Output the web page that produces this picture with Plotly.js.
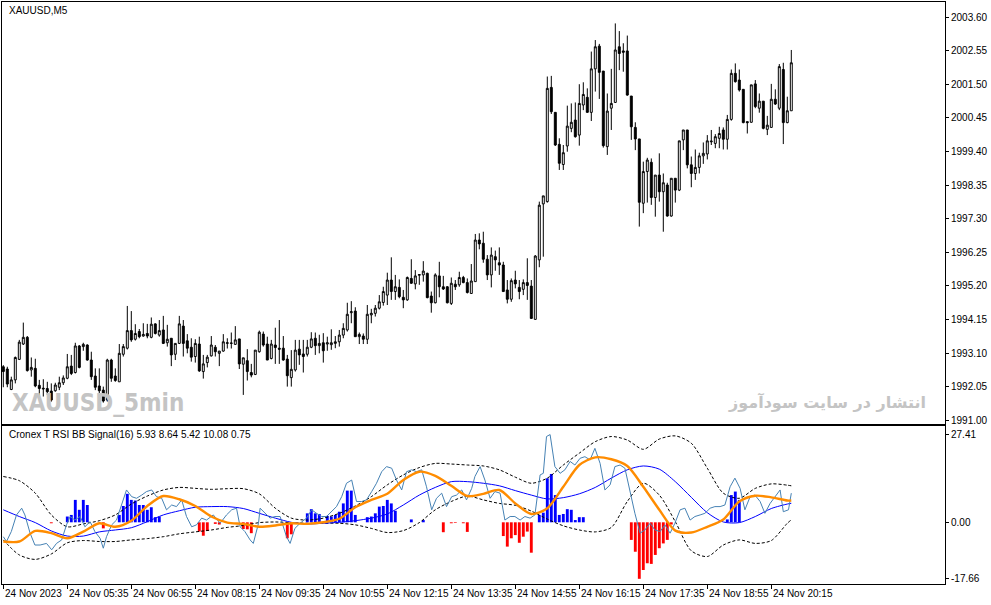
<!DOCTYPE html>
<html>
<head>
<meta charset="utf-8">
<script src="https://cdn.plot.ly/plotly-3.0.1.min.js"></script>
<style>
html,body{margin:0;padding:0;background:#fff;}
#chart{width:991px;height:605px;}
</style>
</head>
<body>
<div id="chart"></div>
<script>
// ---- Price candles (XAUUSD M5, bar 0 = 24 Nov 04:15) ----
const candleOpen = [
1992.67,1992.60,1991.96,1992.26,1992.90,1993.38,1993.59,1992.57,1992.62,1992.09,
1992.00,1991.99,1991.91,1991.92,1992.03,1992.17,1992.31,1992.69,1992.49,1993.32,
1993.30,1993.35,1992.88,1992.38,1992.07,1991.94,1991.63,1992.88,1992.38,1992.20,
1993.06,1993.25,1993.80,1993.53,1993.77,1993.63,1993.71,1993.59,1994.01,1993.66,
1993.82,1993.42,1993.56,1993.06,1993.40,1993.94,1993.48,1993.28,1992.99,1993.38,
1992.52,1992.80,1993.01,1993.28,1993.09,1993.16,1993.40,1993.40,1993.37,1993.54,
1992.75,1992.86,1992.49,1992.43,1993.14,1993.69,1993.38,1992.93,1993.35,1993.25,
1993.25,1992.91,1992.33,1992.57,1993.22,1993.07,1993.06,1993.28,1993.56,1993.33,
1993.42,1993.38,1993.36,1993.40,1993.45,1993.66,1993.82,1994.36,1994.41,1993.61,
1993.63,1993.53,1994.29,1994.34,1994.50,1994.68,1994.91,1995.38,1995.02,1995.15,
1994.84,1994.76,1995.43,1995.26,1995.53,1995.54,1995.59,1994.88,1994.67,1995.51,
1995.17,1995.17,1994.65,1995.25,1995.23,1995.46,1995.30,1994.96,1995.33,1996.63,
1996.53,1996.03,1995.54,1996.11,1995.92,1995.85,1995.07,1994.78,1995.38,1995.15,
1995.09,1995.30,1995.19,1994.15,1996.01,1997.76,1997.83,2001.40,2000.62,1999.62,
1998.99,1999.57,2000.12,2000.38,1999.91,2000.85,2001.09,2000.62,2001.98,2002.69,
2001.91,1999.55,2000.75,2000.93,2002.67,2002.54,2002.54,2001.13,2000.15,1999.79,
1997.78,1998.77,1999.06,1997.96,1998.66,1998.14,1998.35,1997.38,1998.56,1998.19,
1999.76,2000.07,1998.98,1998.71,1998.90,1999.26,1999.32,1999.70,1999.65,1999.81,
2000.07,1999.78,2000.40,2001.84,2001.63,2001.34,2000.33,2000.31,2001.51,2000.75,
2000.97,2000.09,2000.15,2001.03,2000.75,2001.96,2000.30,2000.67];
const candleHigh = [
1992.72,1992.67,1992.36,1992.99,1993.51,1994.05,1993.63,1992.96,1992.92,1992.26,
1992.28,1992.20,1992.15,1992.17,1992.36,1992.40,1993.07,1993.04,1993.42,1993.35,
1993.42,1993.37,1993.14,1992.62,1992.62,1992.05,1992.92,1992.92,1992.62,1993.38,
1993.38,1994.57,1994.41,1994.00,1993.85,1994.03,1994.01,1994.21,1994.03,1994.13,
1994.26,1993.98,1993.56,1993.40,1994.26,1994.13,1993.69,1993.56,1993.53,1993.61,
1993.04,1993.04,1993.63,1993.35,1993.16,1993.69,1993.56,1993.74,1993.94,1993.54,
1992.95,1993.22,1992.76,1993.19,1993.80,1993.77,1993.61,1993.51,1993.89,1994.13,
1993.63,1993.04,1993.19,1993.51,1993.51,1993.51,1993.51,1993.75,1993.74,1993.67,
1993.72,1993.61,1993.84,1993.63,1993.82,1994.03,1994.67,1994.72,1994.53,1993.74,
1993.71,1994.60,1994.48,1994.60,1994.91,1995.17,1995.61,1996.09,1995.54,1995.40,
1995.07,1995.49,1996.03,1995.69,1995.55,1995.97,1995.61,1995.02,1995.59,1995.95,
1995.51,1995.19,1995.46,1995.38,1995.64,1995.51,1995.43,1995.88,1996.82,1996.84,
1996.89,1996.16,1996.40,1996.30,1996.40,1995.95,1995.38,1995.43,1995.67,1995.38,
1995.40,1996.06,1995.38,1996.16,1997.83,1998.01,2001.74,2001.76,2000.62,1999.81,
1999.60,2000.83,2000.90,2000.93,2001.50,2001.56,2001.37,2002.52,2002.88,2002.76,
2001.91,2001.21,2001.98,2003.40,2003.16,2002.78,2003.02,2001.13,2000.31,1999.79,
1999.08,1999.20,1999.18,1998.66,1999.34,1998.71,1998.42,1998.56,1998.56,1999.73,
2000.07,2000.07,1999.24,1999.46,1999.36,1999.68,1999.91,2000.07,1999.94,2000.17,
2000.15,2000.54,2001.96,2002.15,2001.96,2001.34,2000.33,2001.48,2001.63,2001.21,
2000.97,2000.51,2001.51,2001.34,2002.13,2002.17,2001.11,2002.57];
const candleLow = [
1992.03,1992.03,1991.94,1992.15,1992.88,1993.35,1992.52,1992.36,1992.03,1991.74,
1991.74,1991.79,1991.58,1991.89,1991.94,1992.10,1992.28,1992.41,1992.46,1992.62,
1993.17,1992.86,1992.26,1991.94,1991.84,1991.55,1991.58,1992.20,1992.20,1992.20,
1992.99,1993.21,1993.45,1993.49,1993.56,1993.61,1993.56,1993.56,1993.68,1993.61,
1993.38,1993.30,1992.69,1992.88,1993.38,1992.99,1993.09,1992.83,1992.80,1992.51,
1992.30,1992.65,1992.99,1992.99,1992.69,1993.14,1993.24,1993.24,1993.35,1992.60,
1991.79,1992.24,1992.34,1992.41,1993.11,1993.30,1992.88,1992.90,1992.76,1992.76,
1992.86,1992.05,1992.05,1992.52,1992.73,1992.49,1992.99,1993.25,1993.04,1993.09,
1992.80,1993.17,1993.20,1993.25,1993.30,1993.56,1993.77,1994.03,1993.61,1993.38,
1993.38,1993.38,1994.03,1994.24,1994.46,1994.58,1994.60,1994.76,1994.76,1994.81,
1994.50,1994.73,1995.26,1995.09,1995.23,1995.33,1994.81,1994.36,1994.65,1994.84,
1995.07,1994.65,1994.60,1995.07,1995.17,1995.28,1994.96,1994.96,1995.33,1996.34,
1995.92,1995.38,1995.15,1995.67,1995.54,1995.02,1994.65,1994.70,1995.12,1994.78,
1994.91,1994.76,1994.18,1994.15,1995.78,1996.11,1997.80,2000.57,1999.57,1998.82,
1998.82,1999.39,2000.00,1999.83,1999.58,2000.69,2000.61,2000.35,2001.27,2001.04,
1999.52,1999.29,2000.07,2000.93,2001.94,2001.89,2001.14,1999.76,1999.44,1997.05,
1997.47,1997.80,1997.73,1997.36,1997.83,1996.89,1997.36,1997.36,1997.80,1998.16,
1999.44,1998.87,1998.28,1998.51,1998.71,1999.01,1999.15,1999.60,1999.50,1999.50,
1999.46,1999.46,2000.36,2001.55,2001.27,2000.28,1999.96,2000.30,2000.75,2000.61,
2000.09,1999.91,2000.15,2000.85,2000.69,1999.63,2000.28,2000.67];
const candleClose = [
1992.52,1992.13,1992.26,1992.96,1993.44,1993.59,1992.55,1992.65,1992.07,1991.99,
1991.98,1991.89,1991.63,1992.10,1992.17,1992.32,1992.67,1992.46,1993.32,1992.65,
1993.37,1992.88,1992.36,1992.03,1991.92,1991.60,1992.88,1992.31,1992.24,1993.09,
1993.30,1993.80,1993.51,1993.71,1993.61,1993.68,1993.63,1994.00,1993.71,1993.80,
1993.40,1993.53,1993.04,1993.40,1994.01,1993.40,1993.25,1992.97,1993.40,1992.54,
1992.76,1992.97,1993.35,1993.14,1993.16,1993.45,1993.42,1993.41,1993.51,1992.76,
1992.95,1992.52,1992.41,1993.19,1993.75,1993.35,1992.88,1993.38,1993.27,1993.22,
1992.88,1992.39,1992.59,1993.19,1993.04,1992.99,1993.28,1993.54,1993.33,1993.40,
1993.17,1993.42,1993.42,1993.45,1993.66,1993.87,1994.31,1994.39,1993.61,1993.68,
1993.53,1994.31,1994.34,1994.50,1994.70,1995.02,1995.38,1995.02,1995.17,1994.86,
1994.76,1995.46,1995.28,1995.51,1995.55,1995.66,1994.83,1994.67,1995.54,1995.17,
1995.10,1994.67,1995.28,1995.17,1995.46,1995.30,1994.99,1995.35,1996.63,1996.51,
1996.03,1995.54,1996.16,1996.01,1995.85,1995.02,1994.78,1995.36,1995.26,1995.02,
1995.30,1995.21,1994.18,1996.13,1997.72,1998.01,2001.37,2000.64,1999.60,1999.03,
1999.36,2000.19,2000.31,1999.86,2000.90,2001.18,2000.62,2001.98,2002.67,2001.87,
1999.58,2000.66,2000.90,2002.57,2002.46,2002.50,2001.16,2000.17,1999.79,1997.81,
1998.77,1999.13,1997.96,1998.66,1998.14,1998.42,1997.38,1998.56,1998.19,1999.73,
2000.07,1998.98,1998.71,1998.90,1999.26,1999.34,1999.73,1999.72,1999.86,1999.96,
1999.78,2000.40,2001.84,2001.58,2001.32,2000.30,2000.30,2001.48,2000.80,2000.97,
2000.12,2000.22,2001.03,2000.88,2002.05,2000.30,2000.67,2002.17];

// ---- Axis tick labels ----
const priceTicks = [2003.60,2002.55,2001.50,2000.45,1999.40,1998.35,1997.30,1996.25,1995.20,1994.15,1993.10,1992.05,1991.00];
const priceTickText = ['2003.60','2002.55','2001.50','2000.45','1999.40','1998.35','1997.30','1996.25','1995.20','1994.15','1993.10','1992.05','1991.00'];
const timeTickBars = [0,16,32,48,64,80,96,112,128,144,160,176,192];
const timeTickText = ['24 Nov 2023','24 Nov 05:35','24 Nov 06:55','24 Nov 08:15','24 Nov 09:35','24 Nov 10:55','24 Nov 12:15','24 Nov 13:35','24 Nov 14:55','24 Nov 16:15','24 Nov 17:35','24 Nov 18:55','24 Nov 20:15'];
const indTicks = [27.41, 0, -17.66];
const indTickText = ['27.41','0.00','-17.66'];

// ---- Cronex T RSI BB Signal(16) ----
const histBars = [12,16,17,18,19,20,21,25,29,30,31,32,33,34,35,36,37,38,39,49,50,51,53,54,60,61,62,71,72,
76,77,78,79,81,82,83,84,85,86,87,88,91,92,93,94,95,96,97,98,102,105,110,112,113,115,116,
125,126,127,128,129,130,131,132,134,135,136,137,138,139,140,141,142,143,144,145,
157,158,159,160,161,162,163,164,165,166,167,181,182,183,184];
const histVals = [-0.3,1.8,2.3,7.0,3.9,7.0,5.4,-1.9,2.3,5.1,8.9,7.0,6.8,5.4,5.4,3.9,4.7,1.6,1.8,-2.9,-4.2,-2.7,-0.5,-0.7,-2.1,-2.2,-3.4,-5.0,-3.75,
2.8,4.1,2.8,2.6,2.0,1.8,2.3,3.3,5.9,9.9,9.9,2.3,1.6,1.8,2.8,4.9,5.1,7.0,5.9,3.6,0.9,0.7,-3.1,-0.3,-0.2,-0.3,-3.0,
-4.3,-7.6,-5.0,-4.0,-6.4,-4.5,-2.9,-9.5,2.3,3.0,13.75,15.1,8.5,2.3,2.6,4.1,3.9,0.7,1.6,1.6,
-5.5,-9.2,-17.66,-14.9,-12.8,-13.0,-10.2,-8.1,-6.6,-5.5,-0.7,0.9,8.5,9.6,7.0];

const lineBars = [0,4,8,12,16,20,24,28,32,36,40,44,48,52,56,60,64,68,72,76,80,84,88,92,96,100,104,108,112,116,120,124,128,132,136,140,144,148,152,156,160,164,168,172,176,180,184,188,192,196,197];
const orangeVals = [-6.0,-6.0,-2.7,-3.4,-5.0,-2.9,-0.3,-1.4,0.5,5.1,8.2,7.2,5.1,1.8,-0.1,-0.5,-1.4,-1.0,-0.3,-0.5,0.0,1.1,4.7,7.0,8.9,13.2,15.8,14.5,11.4,8.2,8.9,10.1,5.9,2.6,4.4,11.1,17.9,20.3,19.7,17.6,11.1,3.9,-2.6,-3.2,-1.4,0.9,6.5,8.3,7.8,6.8,6.8];
const blueVals = [3.9,1.8,-0.1,-2.7,-4.3,-4.3,-3.0,-2.4,-1.7,0.2,2.3,3.6,4.7,4.9,4.9,4.3,2.8,1.3,0.0,-0.5,-0.3,0.0,0.5,1.3,2.6,5.4,8.5,10.9,12.7,12.7,12.2,11.4,9.9,8.5,7.3,7.7,8.9,10.9,13.8,16.4,17.6,16.6,12.7,7.8,3.0,0.1,-0.1,1.8,4.3,5.7,5.93];
const upperVals = [14.3,13.0,9.1,2.3,-1.4,-0.5,0.5,2.3,5.7,8.2,10.1,10.9,10.6,10.3,10.5,10.5,8.9,4.4,1.3,0.7,1.3,2.8,5.1,8.0,11.7,14.8,17.1,18.4,18.2,17.9,17.6,16.4,14.1,12.2,13.8,17.9,21.6,25.2,26.8,25.7,22.8,26.0,27.0,24.7,16.9,9.1,7.5,10.6,12.0,11.6,11.4];
const lowerVals = [-5.5,-10.2,-11.6,-9.9,-6.4,-5.7,-6.0,-6.0,-5.5,-5.1,-4.5,-3.6,-3.0,-2.4,-1.6,-1.0,-0.1,0.1,-0.1,-0.3,-0.3,-0.3,-0.8,-1.9,-3.2,-2.6,-0.1,3.9,6.5,8.2,7.0,5.9,5.3,3.5,1.0,-1.1,-2.4,-3.0,-1.6,6.5,12.2,8.5,0.2,-8.9,-10.7,-7.1,-5.5,-6.6,-5.7,-0.3,0.75];

const rsiBars = [0,0.8,2,3.3,4.6,5.4,6.7,7.9,9.2,10.8,
12.1,13.3,14.6,15.8,16.7,17.9,19.2,20.4,21.7,22.9,
24.2,25,25.8,27.1,28.3,29.6,30.8,32.1,33.3,34.6,
35.8,37.1,38.3,39.6,40.8,42.1,43.3,44.6,45.8,47.1,
48.3,49.6,50.8,52.5,54.2,55.8,57.1,58.3,59.2,60.4,
61.7,62.5,63.8,64.2,65.4,66.7,67.9,69.2,70.8,71.7,
72.9,74.2,75.8,77.1,78.3,79.6,80.8,82.1,83.3,84.6,
85.8,87.1,88.3,89.6,90.8,92.1,93.3,94.6,95.8,97.1,
98.3,99.6,100.8,102.1,103.3,104.6,105.8,107.1,108.3,109.6,
110.8,112.1,113.3,114.6,115.8,117.1,117.9,119.2,120.4,121.7,
122.9,124.2,125.4,126.7,127.9,129.2,130.4,131.7,132.9,134.2,
135,135.8,136.7,137.9,139.2,140.4,141.7,142.9,144.2,145.4,
146.7,147.9,149.2,150.4,151.7,152.9,154.2,155.4,156.7,157.9,
159.2,160.4,161.7,162.9,164.2,165.4,166.7,167.9,169.2,170.4,
171.7,172.9,174.2,175.4,176.7,177.9,179.2,180.4,181.7,182.9,
184.2,185.4,186.7,187.9,189.2,190.4,191.7,192.9,194.2,195,
196.3,197];
const rsiVals = [-4.5,-6.0,-2.9,2.3,4.4,2.3,-3.4,-7.1,-7.1,-6.6,
-8.6,-6.6,-5.5,-0.8,1.8,0.7,1.8,-1.4,0.2,-2.9,
-5.0,-8.1,-4.5,-0.8,0.7,5.9,10.1,8.0,7.5,8.5,
9.6,10.1,8.0,7.5,3.9,5.4,4.9,7.0,1.8,-1.4,
-0.8,1.3,0.7,2.3,-0.3,2.3,3.9,4.4,-1.4,-2.9,
-5.5,-6.6,-0.3,4.4,2.8,1.3,1.8,1.8,-4.5,-6.6,
-1.9,-0.3,1.3,3.9,2.8,1.8,1.8,3.3,4.9,8.0,
12.2,13.2,6.5,6.5,7.0,9.6,12.2,15.8,17.4,16.9,
13.2,10.1,15.8,16.4,15.8,16.4,11.1,3.9,7.5,9.1,
4.9,8.0,8.5,10.1,7.0,10.6,14.3,17.4,13.2,7.5,
9.6,9.1,0.7,1.8,1.8,0.7,1.8,1.3,2.3,14.8,
15.3,26.8,27.41,17.4,15.3,16.4,19.0,17.9,20.0,20.5,
19.5,23.1,18.4,10.1,11.7,17.4,17.9,16.9,9.1,2.8,
-3.4,-2.4,-0.3,-2.4,-2.9,-0.8,-3.4,-0.3,3.9,4.4,
0.7,1.8,2.3,2.8,4.4,4.9,4.9,5.4,11.1,13.8,
10.6,3.9,8.0,8.5,6.5,2.8,5.9,8.0,10.1,3.3,
3.9,9.1];

// ---------------------------------------------------------------
const barIndex = candleOpen.map((_, i) => i);
const FONT = '"Liberation Sans", Arial, sans-serif';
const xRange = [-0.325, 235.425];

const traces = [
  {
    type: 'candlestick', x: barIndex,
    open: candleOpen, high: candleHigh, low: candleLow, close: candleClose,
    xaxis: 'x', yaxis: 'y',
    increasing: {line: {color: '#000000', width: 1}, fillcolor: '#ffffff'},
    decreasing: {line: {color: '#000000', width: 1}, fillcolor: '#000000'},
    whiskerwidth: 0, hoverinfo: 'skip', showlegend: false
  },
  {
    type: 'bar', x: histBars, y: histVals, xaxis: 'x2', yaxis: 'y2', width: 0.72,
    marker: {color: histVals.map(v => v >= 0 ? '#0000FF' : '#FF0000'), line: {width: 0}},
    hoverinfo: 'skip', showlegend: false
  },
  {
    type: 'scatter', mode: 'lines', x: lineBars, y: upperVals, xaxis: 'x2', yaxis: 'y2',
    line: {color: '#000000', width: 1, dash: '3px,2px', shape: 'spline', smoothing: 0.8},
    hoverinfo: 'skip', showlegend: false
  },
  {
    type: 'scatter', mode: 'lines', x: lineBars, y: lowerVals, xaxis: 'x2', yaxis: 'y2',
    line: {color: '#000000', width: 1, dash: '3px,2px', shape: 'spline', smoothing: 0.8},
    hoverinfo: 'skip', showlegend: false
  },
  {
    type: 'scatter', mode: 'lines', x: lineBars, y: blueVals, xaxis: 'x2', yaxis: 'y2',
    line: {color: '#0000FF', width: 1, shape: 'spline', smoothing: 0.8},
    hoverinfo: 'skip', showlegend: false
  },
  {
    type: 'scatter', mode: 'lines', x: rsiBars, y: rsiVals, xaxis: 'x2', yaxis: 'y2',
    line: {color: '#4682B4', width: 1},
    hoverinfo: 'skip', showlegend: false
  },
  {
    type: 'scatter', mode: 'lines', x: lineBars, y: orangeVals, xaxis: 'x2', yaxis: 'y2',
    line: {color: '#FF8C00', width: 2.4, shape: 'spline', smoothing: 0.8},
    hoverinfo: 'skip', showlegend: false
  }
];

const annotations = [
  {text: 'XAUUSD,M5', xref: 'paper', yref: 'paper', x: 0.0053, y: 0.9855, xanchor: 'left', yanchor: 'middle',
   showarrow: false, font: {family: FONT, size: 10, color: '#000'}},
  {text: 'Cronex T RSI BB Signal(16) 5.93 8.64 5.42 10.08 0.75', xref: 'paper', yref: 'paper', x: 0.0053, y: 0.2569,
   xanchor: 'left', yanchor: 'middle', showarrow: false, font: {family: FONT, size: 10, color: '#000'}},
  {text: '<b>XAUUSD_5min</b>', xref: 'paper', yref: 'paper', x: 0.0085, y: 0.311, xanchor: 'left', yanchor: 'middle',
   showarrow: false, font: {family: '"Liberation Sans Narrow", "DejaVu Sans Condensed", sans-serif', size: 24, color: '#c4c4c4'}},
  {text: '<b>انتشار در سایت سودآموز</b>', xref: 'paper', yref: 'paper', x: 0.982, y: 0.3127, xanchor: 'right', yanchor: 'middle',
   showarrow: false, font: {family: '"DejaVu Sans", sans-serif', size: 16, color: '#c4c4c4'}}
];
timeTickBars.forEach((b, k) => {
  annotations.push({text: timeTickText[k], xref: 'x2', yref: 'paper', x: b, y: -0.0155,
    xanchor: 'left', yanchor: 'middle', showarrow: false, font: {family: FONT, size: 10, color: '#000'}});
});

const layout = {
  width: 991, height: 605,
  margin: {l: 2, r: 46, t: 2, b: 21, pad: 0},
  paper_bgcolor: '#ffffff', plot_bgcolor: '#ffffff',
  showlegend: false, barmode: 'overlay',
  xaxis: {domain: [0, 1], anchor: 'y', range: xRange, type: 'linear',
    showline: true, mirror: true, linecolor: '#000', linewidth: 1,
    showgrid: false, zeroline: false, ticks: '', showticklabels: false,
    rangeslider: {visible: false}, fixedrange: true},
  yaxis: {domain: [0.2749, 1], anchor: 'x', side: 'right', range: [1990.881, 2004.069],
    tickvals: priceTicks, ticktext: priceTickText, ticks: 'outside', ticklen: 3, tickcolor: '#000',
    showline: true, mirror: true, linecolor: '#000', linewidth: 1,
    showgrid: false, zeroline: false, tickfont: {family: FONT, size: 10, color: '#000'}, fixedrange: true},
  xaxis2: {domain: [0, 1], anchor: 'y2', range: xRange, type: 'linear',
    showline: true, mirror: true, linecolor: '#000', linewidth: 1,
    showgrid: false, zeroline: false, ticks: 'outside', ticklen: 4, tickcolor: '#000',
    tickvals: timeTickBars, showticklabels: false, fixedrange: true},
  yaxis2: {domain: [0, 0.2715], anchor: 'x2', side: 'right', range: [-19.28, 30.09],
    tickvals: indTicks, ticktext: indTickText, ticks: 'outside', ticklen: 3, tickcolor: '#000',
    showline: true, mirror: true, linecolor: '#000', linewidth: 1,
    showgrid: false, zeroline: false, tickfont: {family: FONT, size: 10, color: '#000'}, fixedrange: true},
  annotations: annotations
};

Plotly.newPlot('chart', traces, layout, {displayModeBar: false, staticPlot: true});
</script>
</body>
</html>
